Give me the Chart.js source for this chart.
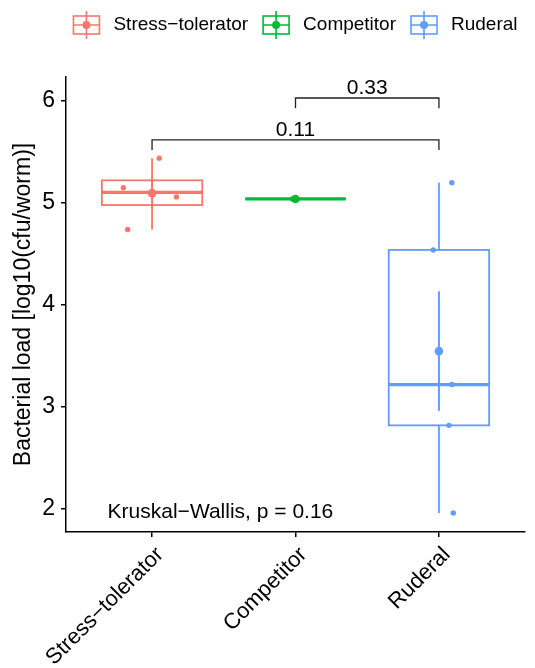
<!DOCTYPE html>
<html>
<head>
<meta charset="utf-8">
<script src="https://cdn.jsdelivr.net/npm/chart.js@4.4.0/dist/chart.umd.min.js"></script>
<style>
  body { margin: 0; background: #fff; }
  #wrap { width: 535px; height: 668px; }
</style>
</head>
<body>
<div id="wrap"><canvas id="loadchart" width="535" height="668"></canvas></div>
<script>
// groups along the x axis
const groups = ['Stress\u2212tolerator', 'Competitor', 'Ruderal'];
const groupColors = ['#F8766D', '#00BA38', '#619CFF'];

// bacterial load, log10(cfu/worm), one value per sample
const stressTolerator = [5.44, 5.15, 5.06, 4.74];
const competitor = [5.04];
const ruderal = [5.20, 4.54, 3.22, 2.82, 1.96];

// horizontal jitter of the sample dots (in group steps)
const jitterStress = [0.05, -0.20, 0.17, -0.17];
const jitterCompetitor = [-0.02];
const jitterRuderal = [0.09, -0.04, 0.09, 0.07, 0.10];

// pairwise comparisons: from group, to group, bracket height, p-value
const pairFrom = [0, 1];
const pairTo = [2, 2];
const pairY = [5.62, 6.03];
const pairP = ['0.11', '0.33'];

const kwLabel = 'Kruskal\u2212Wallis, p = 0.16';
const yTicks = [2, 3, 4, 5, 6];

const FONT = '"Liberation Sans", Arial, Helvetica, sans-serif';
Chart.defaults.font.family = FONT;
Chart.defaults.color = '#000';

// ---- box statistics (same rules as a standard boxplot) ----
function quantile(sorted, p) {
  const h = (sorted.length - 1) * p;
  const lo = Math.floor(h), hi = Math.ceil(h);
  return sorted[lo] + (h - lo) * (sorted[hi] - sorted[lo]);
}

function boxStats(vals) {
  const s = vals.slice().sort((a, b) => a - b);
  const q1 = quantile(s, 0.25), med = quantile(s, 0.5), q3 = quantile(s, 0.75);
  const iqr = q3 - q1;
  const lo = s.find(v => v >= q1 - 1.5 * iqr);
  const hi = s.filter(v => v <= q3 + 1.5 * iqr).pop();
  const mean = s.reduce((a, b) => a + b, 0) / s.length;
  let se = null;
  if (s.length > 1) {
    const sd = Math.sqrt(s.reduce((a, v) => a + (v - mean) * (v - mean), 0) / (s.length - 1));
    se = sd / Math.sqrt(s.length);
  }
  return { q1, med, q3, lo, hi, mean, se };
}

const series = [stressTolerator, competitor, ruderal];
const jitters = [jitterStress, jitterCompetitor, jitterRuderal];
const stats = series.map(boxStats);

// ---- boxes, whiskers and mean +/- se bars ----
const boxPlugin = {
  id: 'boxes',
  beforeDatasetsDraw(chart) {
    const { ctx, scales: { x, y } } = chart;
    const half = x.getPixelForValue(1.35) - x.getPixelForValue(1);
    const seg = (x1, y1, x2, y2) => {
      ctx.beginPath(); ctx.moveTo(x1, y1); ctx.lineTo(x2, y2); ctx.stroke();
    };
    stats.forEach((st, i) => {
      const cx = x.getPixelForValue(i + 1);
      const py = v => y.getPixelForValue(v);
      ctx.save();
      ctx.strokeStyle = groupColors[i];
      ctx.lineWidth = 1.8;
      if (st.hi > st.q3) seg(cx, py(st.q3), cx, py(st.hi));
      if (st.lo < st.q1) seg(cx, py(st.q1), cx, py(st.lo));
      ctx.strokeRect(cx - half, py(st.q3), 2 * half, py(st.q1) - py(st.q3));
      ctx.lineWidth = 3.2;
      seg(cx - half, py(st.med), cx + half, py(st.med));
      if (st.se !== null) {
        ctx.lineWidth = 2;
        seg(cx, py(st.mean - st.se), cx, py(st.mean + st.se));
      }
      ctx.restore();
    });
  }
};

// ---- comparison brackets, test label and legend ----
const annotPlugin = {
  id: 'annotations',
  afterDraw(chart) {
    const { ctx, chartArea, scales: { x, y } } = chart;
    ctx.save();
    ctx.strokeStyle = '#222';
    ctx.lineWidth = 1.3;
    ctx.fillStyle = '#000';
    ctx.font = '21px ' + FONT;
    ctx.textAlign = 'center';
    ctx.textBaseline = 'alphabetic';
    pairP.forEach((p, k) => {
      const x1 = x.getPixelForValue(pairFrom[k] + 1);
      const x2 = x.getPixelForValue(pairTo[k] + 1);
      const yl = y.getPixelForValue(pairY[k]);
      const yt = y.getPixelForValue(pairY[k] - 0.1);
      ctx.beginPath();
      ctx.moveTo(x1, yt); ctx.lineTo(x1, yl); ctx.lineTo(x2, yl); ctx.lineTo(x2, yt);
      ctx.stroke();
      ctx.fillText(p, (x1 + x2) / 2, yl - 4);
    });

    ctx.textAlign = 'left';
    ctx.textBaseline = 'middle';
    ctx.fillText(kwLabel, x.getPixelForValue(0.69), y.getPixelForValue(1.97));

    // legend keys drawn like little boxplots
    ctx.font = '19px ' + FONT;
    const keyW = 26, keyH = 18, textGap = 14, itemGap = 15, cy = 25;
    const widths = groups.map(g => ctx.measureText(g).width);
    const total = widths.reduce((a, w) => a + keyW + textGap + w, 0) + itemGap * (groups.length - 1);
    let x0 = (chartArea.left + chartArea.right) / 2 - total / 2;
    groups.forEach((g, i) => {
      const kx = x0 + keyW / 2;
      ctx.strokeStyle = groupColors[i];
      ctx.fillStyle = groupColors[i];
      ctx.lineWidth = 1.6;
      ctx.strokeRect(x0, cy - keyH / 2, keyW, keyH);
      ctx.beginPath();
      ctx.moveTo(x0, cy); ctx.lineTo(x0 + keyW, cy);
      ctx.moveTo(kx, cy - 14); ctx.lineTo(kx, cy + 14);
      ctx.stroke();
      ctx.beginPath();
      ctx.arc(kx, cy, 4, 0, Math.PI * 2);
      ctx.fill();
      ctx.fillStyle = '#000';
      ctx.fillText(g, x0 + keyW + textGap, cy);
      x0 += keyW + textGap + widths[i] + itemGap;
    });
    ctx.restore();
  }
};

const datasets = series.map((vals, i) => ({
  label: groups[i],
  data: vals.map((v, k) => ({ x: i + 1 + jitters[i][k], y: v })),
  pointRadius: 2.7,
  pointBackgroundColor: groupColors[i],
  pointBorderWidth: 0
}));
datasets.push({
  label: 'mean',
  data: stats.map((st, i) => ({ x: i + 1, y: st.mean })),
  pointRadius: 4.3,
  pointBackgroundColor: groupColors,
  pointBorderWidth: 0
});

const axisGrid = { drawOnChartArea: false, drawTicks: true, tickLength: 5, color: '#000', lineWidth: 1.5 };
const axisBorder = { color: '#000', width: 1.5 };

new Chart(document.getElementById('loadchart'), {
  type: 'scatter',
  data: { datasets },
  options: {
    responsive: false,
    animation: false,
    devicePixelRatio: 1,
    layout: { padding: { top: 77, right: 10, left: 0, bottom: 0 } },
    plugins: { legend: { display: false }, tooltip: { enabled: false } },
    scales: {
      x: {
        type: 'linear',
        min: 0.4,
        max: 3.6,
        afterBuildTicks(scale) { scale.ticks = groups.map((g, i) => ({ value: i + 1 })); },
        ticks: {
          callback: v => groups[v - 1],
          autoSkip: false,
          minRotation: 45,
          maxRotation: 45,
          padding: 5,
          labelOffset: 8,
          color: '#000',
          font: { size: 22 }
        },
        grid: axisGrid,
        border: axisBorder,
        afterFit(scale) { scale.height = 136; scale.paddingLeft = 0; scale.paddingRight = 0; }
      },
      y: {
        min: 1.774,
        max: 6.236,
        afterBuildTicks(scale) { scale.ticks = yTicks.map(v => ({ value: v })); },
        ticks: { padding: 6, color: '#000', font: { size: 23 } },
        grid: axisGrid,
        border: axisBorder,
        title: {
          display: true,
          text: 'Bacterial load [log10(cfu/worm)]',
          color: '#000',
          font: { size: 23 },
          padding: { top: 10, bottom: 0 }
        },
        afterFit(scale) { scale.width = 66; scale.paddingTop = 0; scale.paddingBottom = 0; }
      }
    }
  },
  plugins: [boxPlugin, annotPlugin]
});
</script>
</body>
</html>
